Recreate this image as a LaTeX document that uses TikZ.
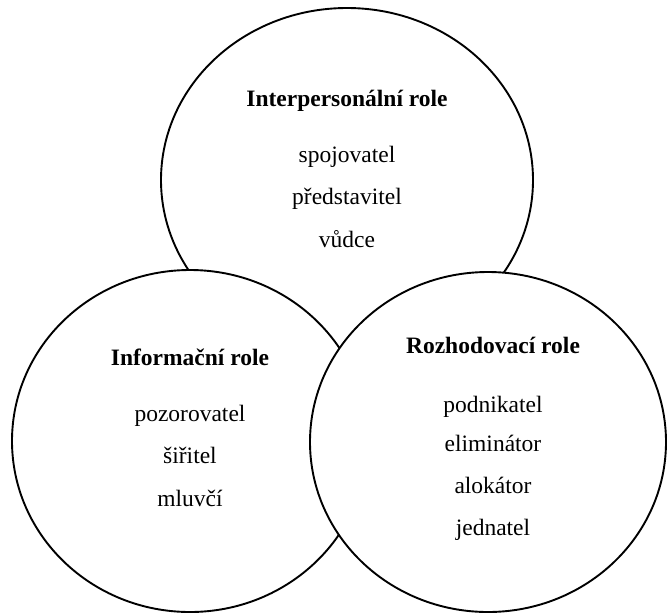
\documentclass[tikz,border=0pt]{standalone}
\usepackage{fontspec}
\setmainfont{Liberation Serif}
\usetikzlibrary{shapes.geometric}
\begin{document}
\begin{tikzpicture}[x=1pt,y=-1pt,
  rolearea/.style 2 args={ellipse,draw=black,fill=white,line width=1.9pt,inner sep=0pt,outer sep=0pt,minimum width=#1,minimum height=#2},
  roletitle/.style={anchor=base,inner sep=0pt,font=\fontsize{23.5}{28}\selectfont\bfseries},
  roleitem/.style={anchor=base,inner sep=0pt,font=\fontsize{23.5}{28}\selectfont}]
\useasboundingbox (0,0) rectangle (667,614);
% the three role areas, later ones laid over earlier ones
\node[rolearea={372pt}{344pt}] (inter) at (347,180) {};
\node[rolearea={356pt}{342pt}] (info) at (190,441) {};
\node[rolearea={356pt}{340pt}] (rozh) at (488,442) {};
% interpersonal roles
\node[roletitle] (interT) at (347,106) {Interpersonální role};
\node[roleitem] (inter1) at (347,162) {spojovatel};
\node[roleitem] (inter2) at (347,204) {představitel};
\node[roleitem] (inter3) at (347,247) {vůdce};
% informational roles
\node[roletitle] (infoT) at (190,365) {Informační role};
\node[roleitem] (info1) at (190,421) {pozorovatel};
\node[roleitem] (info2) at (190,463) {šiřitel};
\node[roleitem] (info3) at (190,506) {mluvčí};
% decisional roles
\node[roletitle] (rozhT) at (493,353) {Rozhodovací role};
\node[roleitem] (rozh1) at (493,412) {podnikatel};
\node[roleitem] (rozh2) at (493,451) {eliminátor};
\node[roleitem] (rozh3) at (493,493) {alokátor};
\node[roleitem] (rozh4) at (493,535) {jednatel};
\end{tikzpicture}
\end{document}
